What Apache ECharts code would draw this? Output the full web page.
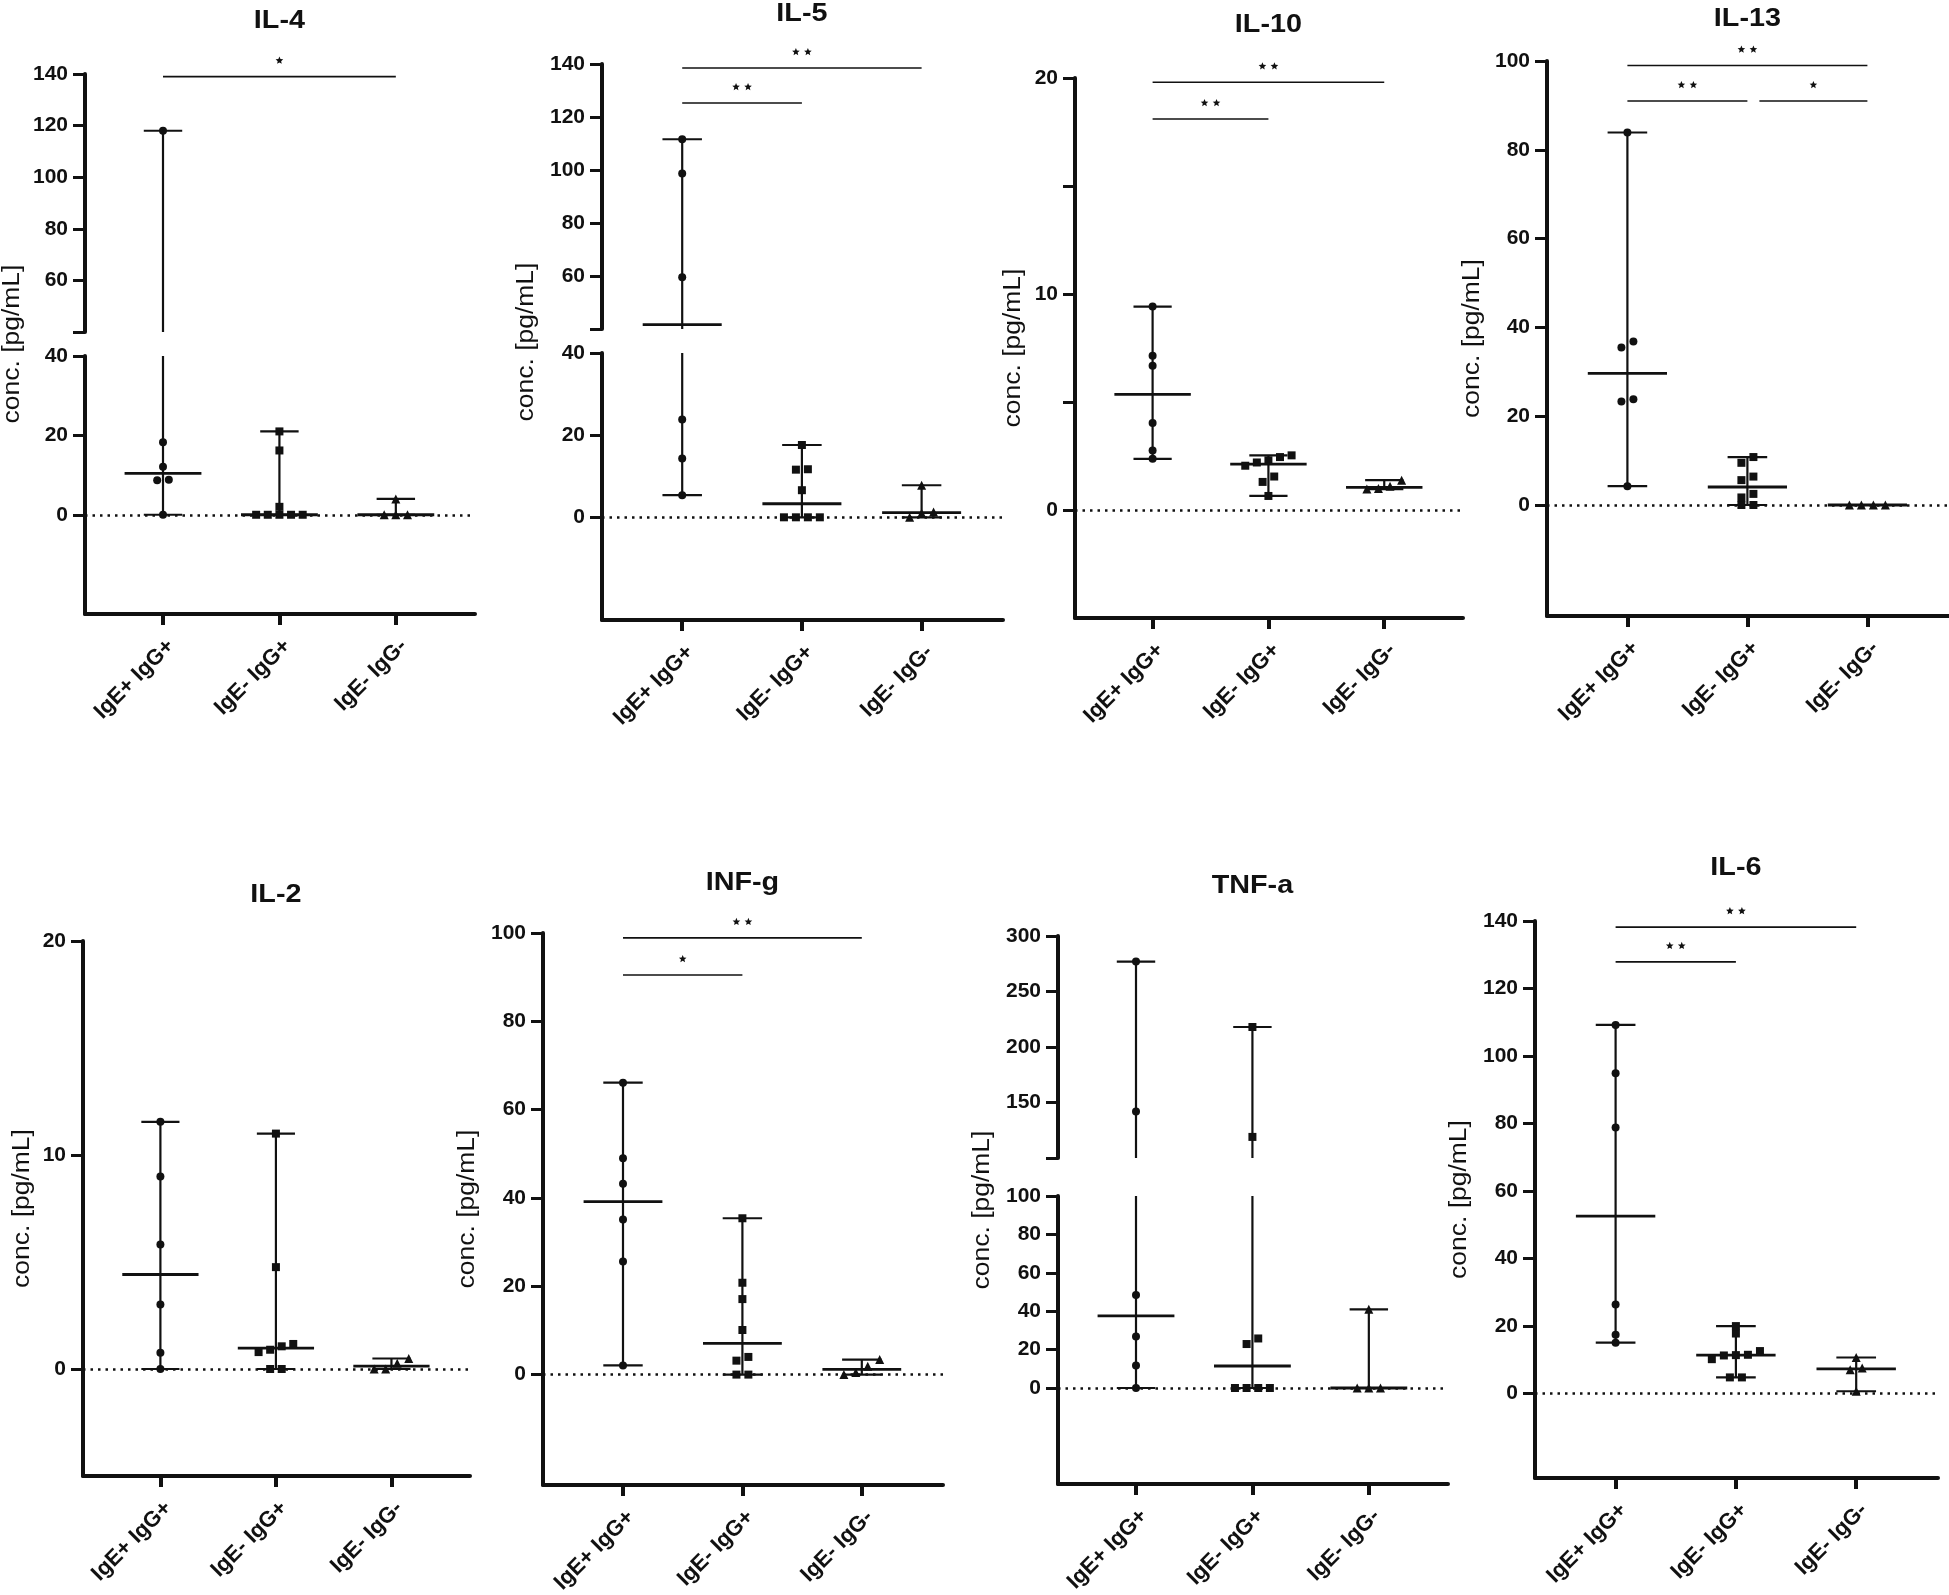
<!DOCTYPE html>
<html>
<head>
<meta charset="utf-8">
<script src="https://cdn.jsdelivr.net/npm/echarts@6/dist/echarts.min.js"></script>
<style>
  html, body { margin: 0; padding: 0; background: #fff; }
  #chart { width: 1949px; height: 1595px; }
</style>
</head>
<body>
<div id="chart"></div>
<script>
// ---- 分组名称 ----
const categories = ['IgE+ IgG+', 'IgE- IgG+', 'IgE- IgG-'];

// ---- 各细胞因子浓度 (pg/mL)，每组一个数组 ----
const il4Pos = [118, 18.3, 12.1, 8.8, 8.7, 0];
const il4Mid = [21, 16.2, 2, 0, 0, 0, 0, 0];
const il4Neg = [4, 0, 0, 0];

const il5Pos = [111.6, 98.7, 59.5, 23.8, 14.3, 5.4];
const il5Mid = [17.6, 11.7, 11.6, 6.6, 0, 0, 0, 0];
const il5Neg = [7.8, 1.3, 1.0, 0];

const il10Pos = [9.42, 7.14, 6.68, 4.03, 2.76, 2.37];
const il10Mid = [2.53, 2.45, 2.3, 2.2, 2.05, 1.55, 1.3, 0.65];
const il10Neg = [1.38, 1.1, 1.0, 0.97];

const il13Pos = [83.9, 36.8, 35.5, 23.8, 23.3, 4.25];
const il13Mid = [10.8, 9.5, 6.4, 5.6, 2.5, 1.7, 0, 0];
const il13Neg = [0, 0, 0, 0];

const il2Pos = [11.55, 8.99, 5.82, 3.01, 0.76, 0];
const il2Mid = [11.0, 4.76, 1.17, 1.06, 0.9, 0.79, 0, 0];
const il2Neg = [0.49, 0.27, 0, 0];

const infgPos = [66.1, 49.0, 43.2, 35.1, 25.6, 2.07];
const infgMid = [35.4, 20.8, 17.1, 10.1, 4.0, 3.16, 0, 0];
const infgNeg = [3.4, 1.9, 0.5, 0];

const tnfPos = [277, 141.8, 48.4, 26.8, 11.7, 0];
const tnfMid = [218, 119, 25.8, 22.9, 0, 0, 0, 0];
const tnfNeg = [41, 0, 0, 0];

const il6Pos = [109.2, 94.9, 78.8, 26.4, 17.4, 15.1];
const il6Mid = [20.0, 17.8, 12.6, 11.5, 11.4, 11.3, 10.2, 4.8, 4.8];
const il6Neg = [10.7, 7.55, 7.1, 0.7];

// ---- 显著性标注：[起始组, 结束组, 高度, 星号个数] ----
const il4Sig = [[0, 2, 139, 1]];
const il5Sig = [[0, 1, 125.3, 2], [0, 2, 138.5, 2]];
const il10Sig = [[0, 1, 18.1, 2], [0, 2, 19.8, 2]];
const il13Sig = [[0, 1, 91, 2], [1, 2, 91, 1], [0, 2, 99, 2]];
const infgSig = [[0, 1, 90.5, 1], [0, 2, 98.9, 2]];
const il6Sig = [[0, 1, 127.9, 2], [0, 2, 138.2, 2]];

// ---- 纵轴刻度 ----
const il4TicksLow = [0, 20, 40];
const il4TicksHigh = [40, 60, 80, 100, 120, 140];
const il4LabelsHigh = [60, 80, 100, 120, 140];
const il5TicksLow = [0, 20, 40];
const il5TicksHigh = [40, 60, 80, 100, 120, 140];
const il5LabelsHigh = [60, 80, 100, 120, 140];
const il10Ticks = [0, 5, 10, 15, 20];
const il10Labels = [0, 10, 20];
const il13Ticks = [0, 20, 40, 60, 80, 100];
const il2Ticks = [0, 10, 20];
const infgTicks = [0, 20, 40, 60, 80, 100];
const tnfTicksLow = [0, 20, 40, 60, 80, 100];
const tnfTicksHigh = [100, 150, 200, 250, 300];
const tnfLabelsHigh = [150, 200, 250, 300];
const il6Ticks = [0, 20, 40, 60, 80, 100, 120, 140];

// ---- 样式常量 ----
const INK = '#111';
const FONT = '"Liberation Sans", Arial, sans-serif';
const CAT_MIN = -0.67, CAT_MAX = 2.68;
const STEP = 0.1;          // 重叠点横向间距（组单位）
const MED_HALF = 0.33;     // 中位数横线半宽
const CAP_HALF = 0.165;    // 端帽半宽
const SYMBOLS = [['circle', 8], ['rect', 8], ['triangle', 9]];

// ---- 面板：分段 seg 自下而上 ----
const panels = [
  { title: 'IL-4', groups: [il4Pos, il4Mid, il4Neg], sig: il4Sig, left: 85, right: 475, titleY: 21, nameX: 13,
    segs: [{ top: 356, bottom: 614, min: -25, max: 40, ticks: il4TicksLow, labels: il4TicksLow },
           { top: 74, bottom: 332, min: 40, max: 140, ticks: il4TicksHigh, labels: il4LabelsHigh }] },
  { title: 'IL-5', groups: [il5Pos, il5Mid, il5Neg], sig: il5Sig, left: 602, right: 1003, titleY: 14, nameX: 527,
    segs: [{ top: 353, bottom: 620, min: -25, max: 40, ticks: il5TicksLow, labels: il5TicksLow },
           { top: 64, bottom: 329, min: 40, max: 140, ticks: il5TicksHigh, labels: il5LabelsHigh }] },
  { title: 'IL-10', groups: [il10Pos, il10Mid, il10Neg], sig: il10Sig, left: 1075, right: 1463, titleY: 25, nameX: 1014,
    segs: [{ top: 78, bottom: 618, min: -5, max: 20, ticks: il10Ticks, labels: il10Labels }] },
  { title: 'IL-13', groups: [il13Pos, il13Mid, il13Neg], sig: il13Sig, left: 1547, right: 1949, titleY: 19, nameX: 1473,
    segs: [{ top: 61, bottom: 616, min: -25, max: 100, ticks: il13Ticks, labels: il13Ticks }] },
  { title: 'IL-2', groups: [il2Pos, il2Mid, il2Neg], sig: [], left: 83, right: 470, titleY: 895, nameX: 23,
    segs: [{ top: 941, bottom: 1476, min: -5, max: 20, ticks: il2Ticks, labels: il2Ticks }] },
  { title: 'INF-g', groups: [infgPos, infgMid, infgNeg], sig: infgSig, left: 543, right: 943, titleY: 883, nameX: 468,
    segs: [{ top: 933, bottom: 1485, min: -25, max: 100, ticks: infgTicks, labels: infgTicks }] },
  { title: 'TNF-a', groups: [tnfPos, tnfMid, tnfNeg], sig: [], left: 1058, right: 1448, titleY: 886, nameX: 983,
    segs: [{ top: 1196, bottom: 1484, min: -50, max: 100, ticks: tnfTicksLow, labels: tnfTicksLow },
           { top: 936, bottom: 1158, min: 100, max: 300, ticks: tnfTicksHigh, labels: tnfLabelsHigh }] },
  { title: 'IL-6', groups: [il6Pos, il6Mid, il6Neg], sig: il6Sig, left: 1535, right: 1938, titleY: 868, nameX: 1460,
    segs: [{ top: 921, bottom: 1478, min: -25, max: 140, ticks: il6Ticks, labels: il6Ticks }] }
];

function median(arr) {
  const s = arr.slice().sort((a, b) => a - b);
  const n = s.length;
  return n % 2 ? s[(n - 1) / 2] : (s[n / 2 - 1] + s[n / 2]) / 2;
}

// 该值所在分段的像素/单位
function pxPerUnit(panel, v) {
  const seg = panel.segs.find(s => v <= s.max) || panel.segs[panel.segs.length - 1];
  return (seg.bottom - seg.top) / (seg.max - seg.min);
}

// 重叠的点左右排开
function spread(panel, values, idx) {
  const sorted = values.slice().sort((a, b) => a - b);
  const out = [];
  let cluster = [];
  const flush = () => {
    const n = cluster.length;
    cluster.forEach((v, j) => out.push([idx + (j - (n - 1) / 2) * STEP, v]));
    cluster = [];
  };
  sorted.forEach(v => {
    if (cluster.length && (v - cluster[cluster.length - 1]) * pxPerUnit(panel, v) > 7) flush();
    cluster.push(v);
  });
  flush();
  return out;
}

// 中位数 + 极差
function renderRange(params, api) {
  const cs = params.coordSys;
  const top = cs.y, bot = cs.y + cs.height;
  const x = api.value(0);
  const cx = api.coord([x, 0])[0];
  const capW = api.coord([x + CAP_HALF, 0])[0] - cx;
  const medW = api.coord([x + MED_HALF, 0])[0] - cx;
  const yLo = api.coord([x, api.value(1)])[1];
  const yMed = api.coord([x, api.value(2)])[1];
  const yHi = api.coord([x, api.value(3)])[1];
  const clamp = y => Math.max(top, Math.min(bot, y));
  const inside = y => y >= top - 0.5 && y <= bot + 0.5;
  const children = [];
  const a = clamp(yHi), b = clamp(yLo);
  if (b - a > 0.5) {
    children.push({ type: 'line', shape: { x1: cx, y1: a, x2: cx, y2: b }, style: { stroke: INK, lineWidth: 2.2 } });
  }
  [yHi, yLo].forEach(y => {
    if (inside(y)) children.push({ type: 'line', shape: { x1: cx - capW, y1: y, x2: cx + capW, y2: y }, style: { stroke: INK, lineWidth: 2.2 } });
  });
  if (inside(yMed)) {
    children.push({ type: 'line', shape: { x1: cx - medW, y1: yMed, x2: cx + medW, y2: yMed }, style: { stroke: INK, lineWidth: 2.8 } });
  }
  return { type: 'group', children };
}

// 五角星
function starPoints(cx, cy, r) {
  const pts = [];
  for (let k = 0; k < 10; k++) {
    const ang = -Math.PI / 2 + k * Math.PI / 5;
    const rr = k % 2 ? r * 0.45 : r;
    pts.push([cx + rr * Math.cos(ang), cy + rr * Math.sin(ang)]);
  }
  return pts;
}

function bracketRenderer(list) {
  return function (params, api) {
    const b = list[params.dataIndex];
    const y = api.coord([0, b[2]])[1];
    let x1 = api.coord([b[0], 0])[0];
    const x2 = api.coord([b[1], 0])[0];
    // 与另一条线首尾相接时留缝
    if (list.some(o => o !== b && o[1] === b[0] && o[2] === b[2])) x1 += 12;
    const children = [{ type: 'line', shape: { x1, y1: y, x2, y2: y }, style: { stroke: INK, lineWidth: 1.6 } }];
    const mid = (x1 + x2) / 2;
    for (let s = 0; s < b[3]; s++) {
      const sx = mid + (s - (b[3] - 1) / 2) * 12;
      children.push({ type: 'polygon', shape: { points: starPoints(sx, y - 16, 4) }, style: { fill: INK } });
    }
    return { type: 'group', children };
  };
}

const grids = [], xAxes = [], yAxes = [], series = [], graphics = [];

panels.forEach(panel => {
  const stats = panel.groups.map((g, i) => [i, Math.min(...g), median(g), Math.max(...g)]);
  const pts = panel.groups.map((g, i) => spread(panel, g, i));

  panel.segs.forEach((seg, k) => {
    const gi = grids.length;
    const isBottom = k === 0;
    const isTop = k === panel.segs.length - 1;
    grids.push({ left: panel.left, top: seg.top, width: panel.right - panel.left, height: seg.bottom - seg.top,
      containLabel: false, outerBoundsMode: 'none' });
    xAxes.push({
      gridIndex: gi, type: 'value', min: CAT_MIN, max: CAT_MAX, show: isBottom,
      splitLine: { show: false },
      axisLine: { show: true, onZero: false, lineStyle: { color: INK, width: 4 } },
      axisTick: { show: true, length: 11, customValues: [0, 1, 2], lineStyle: { color: INK, width: 4 } },
      axisLabel: { show: true, customValues: [0, 1, 2], formatter: v => categories[Math.round(v)], rotate: 45,
        margin: 21, verticalAlign: 'top', fontSize: 22, fontWeight: 'bold', fontFamily: FONT, color: INK }
    });
    yAxes.push({
      gridIndex: gi, type: 'value', min: seg.min, max: seg.max,
      splitLine: { show: false },
      axisLine: { show: true, onZero: false, lineStyle: { color: INK, width: 4 } },
      axisTick: { show: true, length: 12, customValues: seg.ticks, lineStyle: { color: INK, width: 3 } },
      axisLabel: { show: true, customValues: seg.labels, margin: 17, fontSize: 21, fontWeight: 'bold',
        fontFamily: FONT, color: INK }
    });

    series.push({ type: 'custom', xAxisIndex: gi, yAxisIndex: gi, data: stats, renderItem: renderRange, z: 3, silent: true });

    pts.forEach((data, i) => {
      const s = {
        type: 'scatter', xAxisIndex: gi, yAxisIndex: gi, data, clip: true, silent: true, z: 4,
        symbol: SYMBOLS[i][0], symbolSize: SYMBOLS[i][1], itemStyle: { color: INK, opacity: 1 }
      };
      if (i === 0 && seg.min < 0) {
        s.markLine = { silent: true, symbol: ['none', 'none'], label: { show: false }, z: 2,
          lineStyle: { color: INK, type: [2.5, 5], width: 2.5 }, emphasis: { disabled: true }, data: [{ yAxis: 0 }] };
      }
      series.push(s);
    });

    if (isTop && panel.sig.length) {
      series.push({ type: 'custom', xAxisIndex: gi, yAxisIndex: gi, silent: true, z: 3,
        data: panel.sig.map(b => [b[0], b[2]]), renderItem: bracketRenderer(panel.sig) });
    }
  });

  const cat1 = panel.left + (1 - CAT_MIN) / (CAT_MAX - CAT_MIN) * (panel.right - panel.left);
  const plotTop = panel.segs[panel.segs.length - 1].top;
  const plotBottom = panel.segs[0].bottom;
  graphics.push({ type: 'text', x: cat1, y: panel.titleY, scaleX: 1.15,
    style: { text: panel.title, textAlign: 'center', textVerticalAlign: 'middle', font: 'bold 25px ' + FONT, fill: INK } });
  graphics.push({ type: 'text', x: panel.nameX, y: (plotTop + plotBottom) / 2, rotation: Math.PI / 2, scaleX: 1.15,
    style: { text: 'conc. [pg/mL]', textAlign: 'center', textVerticalAlign: 'middle', font: '23px ' + FONT, fill: INK } });
});

const chart = echarts.init(document.getElementById('chart'), null, { renderer: 'canvas' });
chart.setOption({
  backgroundColor: '#fff',
  animation: false,
  grid: grids,
  xAxis: xAxes,
  yAxis: yAxes,
  series,
  graphic: { elements: graphics }
});
</script>
</body>
</html>
